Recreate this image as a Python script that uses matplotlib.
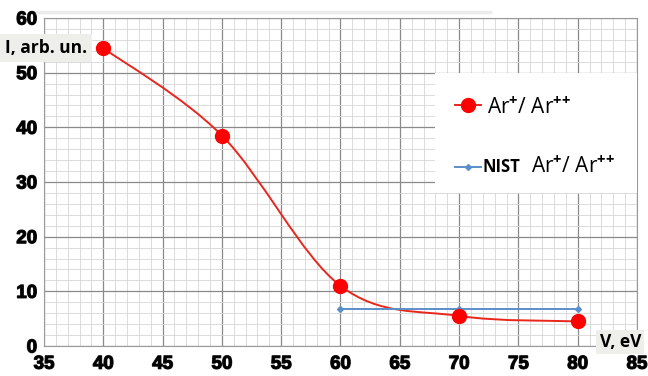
import matplotlib
matplotlib.use("Agg")
import matplotlib.pyplot as plt
import matplotlib.patheffects as pe
from matplotlib.path import Path
from matplotlib.patches import PathPatch, Rectangle
from matplotlib.ticker import MultipleLocator

# data
voltage = [40, 50, 60, 70, 80]
ratio = [54.5, 38.5, 11.0, 5.5, 4.5]
nist_voltage = [60, 70, 80]
nist_ratio = [6.8, 6.8, 6.8]
x_ticks = [35, 40, 45, 50, 55, 60, 65, 70, 75, 80, 85]
y_ticks = [0, 10, 20, 30, 40, 50, 60]

plt.rcParams["font.family"] = ["Open Sans", "DejaVu Sans"]
plt.rcParams["font.weight"] = "bold"
plt.rcParams["mathtext.fontset"] = "custom"
plt.rcParams["mathtext.rm"] = "Open Sans"
plt.rcParams["mathtext.it"] = "Open Sans"
plt.rcParams["mathtext.bf"] = "Open Sans:bold"

red = "#ff0000"
red_line = "#e8261c"
blue = "#5b8fc9"

fig = plt.figure(figsize=(6.48, 3.76), dpi=100)
ax = fig.add_axes([44 / 648, 30 / 376, 593 / 648, 328 / 376])

ax.set_xlim(35, 85)
ax.set_ylim(0, 60)
ax.set_xticks(x_ticks, labels=[str(v) for v in x_ticks])
ax.set_yticks(y_ticks, labels=[str(v) for v in y_ticks])
ax.xaxis.set_minor_locator(MultipleLocator(1))
ax.yaxis.set_minor_locator(MultipleLocator(2))
ax.grid(True, which="major", color="#8a8a8a", lw=0.9)
ax.grid(True, which="minor", color="#d6d6d6", lw=0.6)
ax.set_axisbelow(True)
for s in ax.spines.values():
    s.set_color("#9a9a9a")
    s.set_linewidth(0.8)
ax.tick_params(which="both", length=0)
ax.tick_params(axis="both", labelsize=13.5, labelfontfamily="Liberation Sans")
ax.tick_params(axis="x", pad=7)
ax.tick_params(axis="y", pad=5)

# smoothed curve like a spreadsheet "smoothed line" (Catmull-Rom -> Bezier)
pts = list(zip(voltage, ratio))
verts = [pts[0]]
codes = [Path.MOVETO]
n = len(pts)
for i in range(n - 1):
    p0 = pts[i - 1] if i > 0 else pts[i]
    p1 = pts[i]
    p2 = pts[i + 1]
    p3 = pts[i + 2] if i + 2 < n else pts[i + 1]
    c1 = (p1[0] + (p2[0] - p0[0]) / 6, p1[1] + (p2[1] - p0[1]) / 6)
    c2 = (p2[0] - (p3[0] - p1[0]) / 6, p2[1] - (p3[1] - p1[1]) / 6)
    verts += [c1, c2, p2]
    codes += [Path.CURVE4] * 3
ax.add_patch(PathPatch(Path(verts, codes), fill=False, edgecolor=red_line, lw=1.4, zorder=3))

ax.plot(voltage, ratio, ls="none", marker="o", ms=10, color=red, zorder=4)
ax.plot(nist_voltage, nist_ratio, color=blue, lw=1.4, marker="D", ms=3, zorder=3)

# legend drawn by hand (white box flush with the right edge)
label = r"Ar$^{{+}}$/ Ar$^{{+}{+}}$"
tr = ax.transAxes
ax.add_patch(Rectangle((0.659, 0.466), 0.341, 0.366, transform=tr,
                       facecolor="white", edgecolor="none", zorder=5))
ax.plot([0.693, 0.737], [0.735, 0.735], transform=tr, color=red_line, lw=1.4, zorder=6)
ax.plot([0.715], [0.735], transform=tr, marker="o", ms=10, color=red, zorder=6)
ax.text(0.747, 0.710, label, transform=tr, fontsize=15, fontweight="normal",
        va="baseline", ha="left", zorder=7)
ax.plot([0.693, 0.737], [0.546, 0.546], transform=tr, color=blue, lw=1.4, zorder=6)
ax.plot([0.715], [0.546], transform=tr, marker="D", ms=3, color=blue, zorder=6)
ax.text(0.740, 0.530, "NIST", transform=tr, fontsize=12,
        va="baseline", ha="left", zorder=7)
ax.text(0.822, 0.530, label, transform=tr, fontsize=15, fontweight="normal",
        va="baseline", ha="left", zorder=7)

# axis titles in grey boxes
fig.text(5 / 648, 1 - 48 / 376, "I, arb. un.", fontsize=12.5,
         va="center", ha="left",
         bbox=dict(facecolor="#eeeeea", edgecolor="none", pad=3.5))
fig.text(641 / 648, 1 - 342 / 376, "V, eV", fontsize=12.5,
         va="center", ha="right",
         bbox=dict(facecolor="#eeeeea", edgecolor="none", pad=2.5))

# faint band at the very top
fig.add_artist(plt.Line2D([37 / 648, 490 / 648], [1 - 11.5 / 376, 1 - 11.5 / 376],
                          color="#ececec", lw=2.5))

# heavier tick numbers, like the bold Calibri of the original
fig.canvas.draw()
for lab in ax.get_xticklabels() + ax.get_yticklabels():
    lab.set_fontweight("bold")
    lab.set_path_effects([pe.withStroke(linewidth=0.9, foreground="#1a1a1a")])

fig.savefig("out.png", dpi=100)
